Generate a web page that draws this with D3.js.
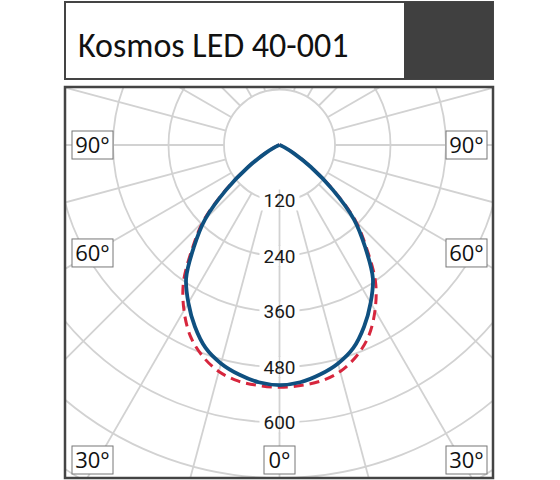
<!DOCTYPE html>
<html>
<head>
<meta charset="utf-8">
<script src="https://cdn.jsdelivr.net/npm/d3@7"></script>
<style>
  body { margin: 0; background: #fff; }
</style>
</head>
<body>
<svg id="svg" width="560" height="480"></svg>
<script>
// luminaire name
const title = "Kosmos LED 40-001";

// gamma angles (deg from nadir) and intensity (cd) of the two C planes
const gamma = [0, 5, 10, 15, 20, 25, 30, 35, 40, 45, 50, 55, 60, 65, 70, 75];
const planeC0 = [519, 515, 504, 489, 467, 433, 394, 352, 288, 228, 150, 82, 35, 12, 3, 0];
const planeC90 = [524, 522, 518, 507, 486, 456, 413, 362, 294, 233, 153, 83, 35, 12, 3, 0];

// grid
const ringValues = [120, 240, 360, 480, 600, 720, 840, 960];
const ringLabels = [120, 240, 360, 480, 600];
const spokeAngles = [0, 15, 30, 45, 60, 75, 90, 105, 120, 135, 150, 165, 180,
  195, 210, 225, 240, 255, 270, 285, 300, 315, 330, 345];
const angleLabels = [
  { text: "90°", a: -90 }, { text: "60°", a: -60 }, { text: "30°", a: -30 },
  { text: "0°", a: 0 },
  { text: "30°", a: 30 }, { text: "60°", a: 60 }, { text: "90°", a: 90 }
];

const svg = d3.select("#svg");
const cx = 279.5, cy = 145;
const frame = { x: 65, y: 87, w: 428, h: 391 };
const gridColor = "#d2d2d2";

// header
svg.append("rect").attr("x", 65).attr("y", 2).attr("width", 428).attr("height", 77)
  .attr("fill", "#fff").attr("stroke", "#444").attr("stroke-width", 2);
svg.append("rect").attr("x", 404).attr("y", 2).attr("width", 89).attr("height", 77)
  .attr("fill", "#404040");
svg.append("text").attr("x", 78).attr("y", 57)
  .style("font-family", "Carlito, Calibri, 'Liberation Sans Narrow', 'Open Sans', sans-serif")
  .style("font-size", "34px").style("fill", "#111").text(title);

// plot area
svg.append("defs").append("clipPath").attr("id", "clip")
  .append("rect").attr("x", frame.x).attr("y", frame.y).attr("width", frame.w).attr("height", frame.h);

const r = d3.scaleLinear().domain([0, 120]).range([0, 55.5]);
const rad = d => d * Math.PI / 180;

const plot = svg.append("g").attr("clip-path", "url(#clip)");
const g = plot.append("g").attr("transform", `translate(${cx},${cy})`);

g.selectAll(".ring").data(ringValues).enter().append("circle")
  .attr("r", d => r(d)).attr("fill", "none")
  .attr("stroke", gridColor).attr("stroke-width", 1.8);

g.selectAll(".spoke").data(spokeAngles).enter().append("line")
  .attr("x1", d => r(120) * Math.sin(rad(d))).attr("y1", d => r(120) * Math.cos(rad(d)))
  .attr("x2", d => r(1200) * Math.sin(rad(d))).attr("y2", d => r(1200) * Math.cos(rad(d)))
  .attr("stroke", gridColor).attr("stroke-width", 1.8);

// ring value labels along the nadir axis
const lab = g.selectAll(".rl").data(ringLabels).enter().append("g")
  .attr("transform", d => `translate(0,${r(d)})`);
lab.append("rect").attr("x", -20).attr("y", -10).attr("width", 40).attr("height", 20).attr("fill", "#fff");
lab.append("line").attr("x1", 0).attr("x2", 0).attr("y1", -11).attr("y2", 11)
  .attr("stroke", gridColor).attr("stroke-width", 1.5);
lab.append("text").attr("text-anchor", "middle").attr("dy", "0.36em")
  .style("font-family", "Roboto, 'Open Sans', sans-serif").style("font-size", "19px")
  .style("fill", "#1a1a1a").text(d => d);

// curves
const curvePoints = vals => {
  const pts = [];
  for (let i = gamma.length - 1; i > 0; i--) pts.push([-gamma[i], vals[i]]);
  for (let i = 0; i < gamma.length; i++) pts.push([gamma[i], vals[i]]);
  return pts;
};
const line = d3.lineRadial()
  .angle(d => Math.PI - rad(d[0]))
  .radius(d => r(d[1]))
  .curve(d3.curveCatmullRom.alpha(0.5));

g.append("path").attr("d", line(curvePoints(planeC90)))
  .attr("fill", "none").attr("stroke", "#d7263d").attr("stroke-width", 3)
  .attr("stroke-dasharray", "10,6");
g.append("path").attr("d", line(curvePoints(planeC0)))
  .attr("fill", "none").attr("stroke", "#0f5080").attr("stroke-width", 3.8)
  .attr("stroke-linejoin", "round");

// angle labels on the frame
const colL = 92.5, colR = 466.5, yMax = 460;
angleLabels.forEach(l => {
  let x, y;
  if (l.a === 0) { x = cx; y = yMax; }
  else {
    x = l.a < 0 ? colL : colR;
    const dx = Math.abs(x - cx);
    y = Math.min(cy + dx / Math.tan(rad(Math.abs(l.a))), yMax);
    if (Math.abs(l.a) === 90) y = cy;
  }
  const w = l.text.length > 2 ? 41 : 31;
  svg.append("rect").attr("x", x - w / 2).attr("y", y - 14).attr("width", w).attr("height", 28)
    .attr("fill", "#fff").attr("stroke", "#777").attr("stroke-width", 1);
  svg.append("text").attr("x", x).attr("y", y).attr("dy", "0.36em").attr("text-anchor", "middle")
    .style("font-family", "'Open Sans', sans-serif").style("font-size", "22px")
    .style("fill", "#111").text(l.text);
});

svg.append("rect").attr("x", frame.x).attr("y", frame.y).attr("width", frame.w).attr("height", frame.h)
  .attr("fill", "none").attr("stroke", "#444").attr("stroke-width", 2.5);
</script>
</body>
</html>
